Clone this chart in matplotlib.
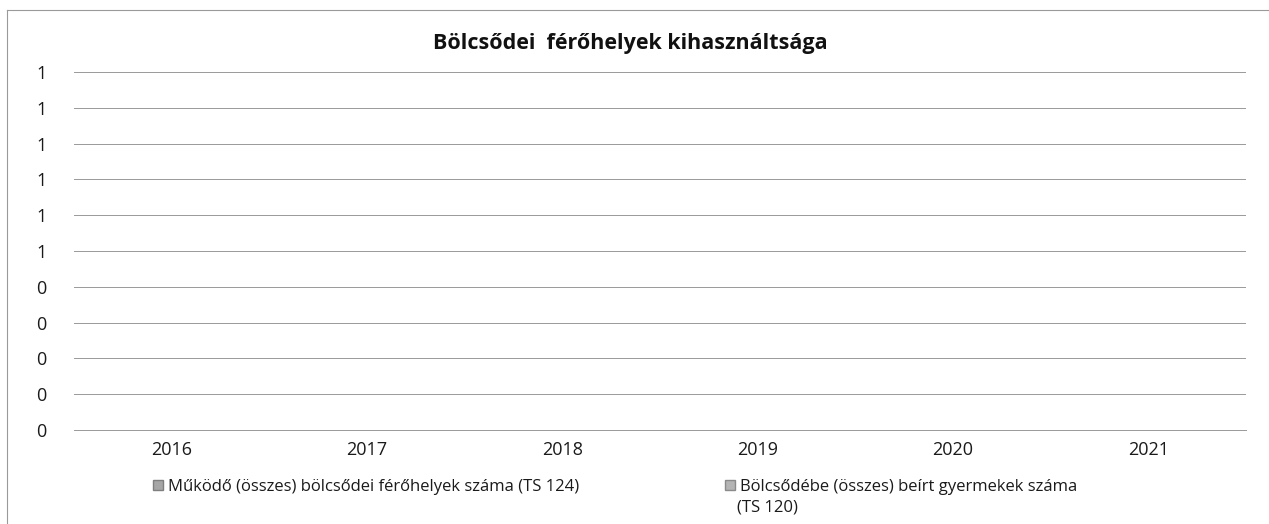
import numpy as np
import matplotlib
matplotlib.use("Agg")
import matplotlib.pyplot as plt
from matplotlib.lines import Line2D

# ---- data ----
years = ["2016", "2017", "2018", "2019", "2020", "2021"]
ferohelyek = [np.nan, np.nan, np.nan, np.nan, np.nan, np.nan]   # Működő (összes) bölcsődei férőhelyek száma (TS 124)
beirt = [np.nan, np.nan, np.nan, np.nan, np.nan, np.nan]        # Bölcsődébe (összes) beírt gyermekek száma (TS 120)
ytick_values = [0.0, 0.1, 0.2, 0.3, 0.4, 0.5, 0.6, 0.7, 0.8, 0.9, 1.0]
ytick_labels = ["0", "0", "0", "0", "0", "1", "1", "1", "1", "1", "1"]
title = "Bölcsődei  férőhelyek kihasználtsága"
label1 = "Működő (összes) bölcsődei férőhelyek száma (TS 124)"
label2 = "Bölcsődébe (összes) beírt gyermekek száma"
label2_cont = "(TS 120)"

plt.rcParams['font.family'] = ['Open Sans', 'DejaVu Sans']

W, H = 1269, 524
fig = plt.figure(figsize=(W / 100, H / 100), dpi=100)
fig.patch.set_facecolor("white")

def fx(px):
    return px / W

def fy(py):
    return 1 - py / H

ax = fig.add_axes([fx(74), fy(430), fx(1246) - fx(74), fy(72) - fy(430)])
x = np.arange(len(years))
bw = 0.35
b1 = ax.bar(x - bw / 2, ferohelyek, bw, color="#a6a6a6", edgecolor="#7f7f7f", label=label1)
b2 = ax.bar(x + bw / 2, beirt, bw, color="#b4b4b4", edgecolor="#8a8a8a", label=label2)

ax.set_xlim(-0.5, len(years) - 0.5)
ax.set_ylim(0, 1)
ax.set_yticks(ytick_values)
ax.set_yticklabels(ytick_labels)
ax.set_xticks(x)
ax.set_xticklabels(years)
ax.grid(axis="y", color="#999999", linewidth=0.7)
ax.set_axisbelow(True)
for s in ["top", "right", "left"]:
    ax.spines[s].set_visible(False)
ax.spines["bottom"].set_color("#999999")
ax.spines["bottom"].set_linewidth(0.7)
ax.tick_params(axis="y", length=0, pad=20, labelsize=13, labelcolor="#1a1a1a")
ax.tick_params(axis="x", length=0, pad=8, labelsize=13, labelcolor="#1a1a1a")

fig.text(fx(630), fy(44), title, ha="center", va="center", fontsize=15.5,
         fontweight="bold", color="#111111")

leg_kw = dict(frameon=False, fontsize=12, handlelength=0.6, handleheight=0.6,
              handletextpad=0.3, borderaxespad=0, borderpad=0, labelcolor="#1a1a1a")
fig.legend(handles=[b1], labels=[label1], loc="center left",
           bbox_to_anchor=(fx(153), fy(487)), **leg_kw)
fig.legend(handles=[b2], labels=[label2], loc="center left",
           bbox_to_anchor=(fx(725), fy(487)), **leg_kw)
fig.text(fx(737), fy(508), label2_cont, ha="left", va="center", fontsize=12, color="#1a1a1a")

# outer chart border (top and left edge visible in scan)
fig.add_artist(Line2D([fx(7), 1], [fy(10), fy(10)], color="#9a9a9a", linewidth=0.8))
fig.add_artist(Line2D([fx(7), fx(7)], [fy(10), 0], color="#9a9a9a", linewidth=0.8))

fig.savefig("out.png", dpi=100)
